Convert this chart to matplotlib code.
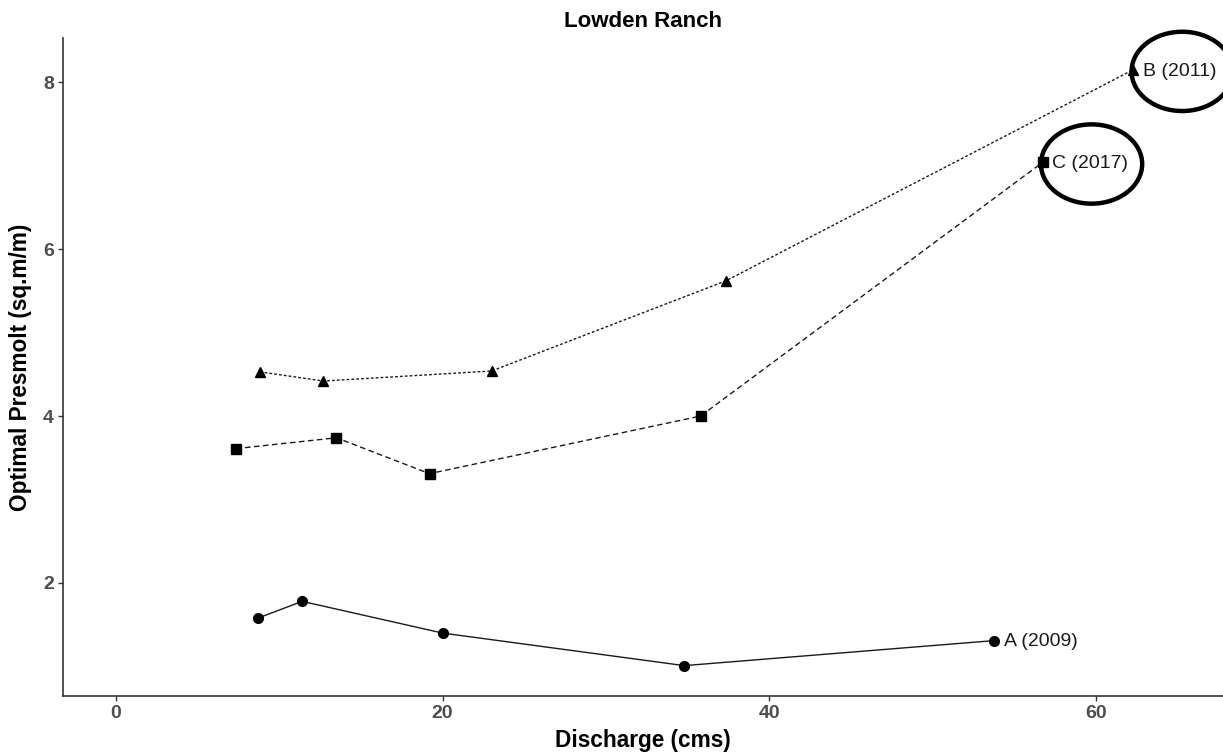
import matplotlib
matplotlib.use("Agg")
import matplotlib.pyplot as plt
from matplotlib.patches import Ellipse

plt.rcParams['font.family'] = ['Liberation Sans', 'DejaVu Sans']

# Data
series_names = ["A (2009)", "B (2011)", "C (2017)"]
a_x = [8.7, 11.4, 20.0, 34.8, 53.8]
a_y = [1.58, 1.78, 1.40, 1.01, 1.31]
b_x = [8.8, 12.7, 23.0, 37.35, 62.3]
b_y = [4.53, 4.42, 4.54, 5.62, 8.15]
c_x = [7.35, 13.5, 19.2, 35.8, 56.75]
c_y = [3.61, 3.74, 3.31, 4.00, 7.04]
x_ticks = [0, 20, 40, 60]
y_ticks = [2, 4, 6, 8]
circled = ["B (2011)", "C (2017)"]

W, H = 1223, 756
fig = plt.figure(figsize=(W / 100, H / 100), dpi=100)
ax = fig.add_axes([63 / W, (H - 696) / H, (W - 63) / W, (696 - 38) / H])

line_col = "#1a1a1a"
styles = [
    (a_x, a_y, "-", "o", 7.0),
    (b_x, b_y, (0, (2, 1.5)), "^", 7.2),
    (c_x, c_y, (0, (4, 2.5)), "s", 6.8),
]
for (xs, ys, ls, mk, ms), name in zip(styles, series_names):
    ax.plot(xs, ys, linestyle=ls, color=line_col, lw=1.0, zorder=2)
    ax.plot(xs, ys, linestyle="none", marker=mk, color="black", ms=ms, zorder=3)
    ax.annotate(name, (xs[-1], ys[-1]), xytext=(7, -1), textcoords="offset points",
                ha="left", va="center", fontsize=14, color="#1a1a1a")
    if name in circled:
        e = Ellipse((xs[-1] + 3.0, ys[-1] - 0.02), width=6.2, height=0.95,
                    fill=False, lw=3.2, ec="black", clip_on=False, zorder=4)
        ax.add_patch(e)

ax.set_xlim(-3.25, 67.8)
ax.set_ylim(0.646, 8.53)
ax.set_xticks(x_ticks)
ax.set_yticks(y_ticks)
for lab in ax.get_xticklabels() + ax.get_yticklabels():
    lab.set_fontweight("bold")
ax.tick_params(axis="both", labelsize=14, labelcolor="#4d4d4d", color="#333333",
               length=3.5, width=1, pad=3)
for s in ["top", "right"]:
    ax.spines[s].set_visible(False)
for s in ["left", "bottom"]:
    ax.spines[s].set_color("#333333")
    ax.spines[s].set_linewidth(1.2)

ax.set_xlabel("Discharge (cms)", fontsize=16.3, fontweight="bold", labelpad=5)
ax.set_ylabel("Optimal Presmolt (sq.m/m)", fontsize=16.3, fontweight="bold", labelpad=8)
ax.set_title("Lowden Ranch", fontsize=16, fontweight="bold", pad=8)

fig.savefig("out.png", dpi=100)
